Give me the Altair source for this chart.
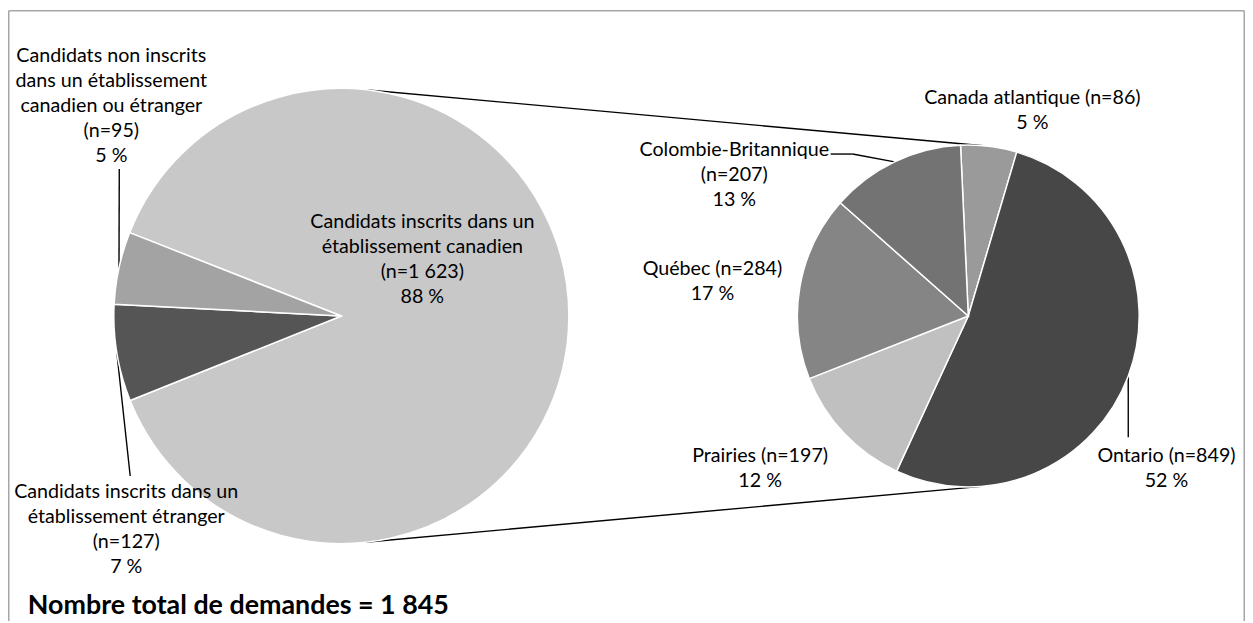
import math
import altair as alt
import pandas as pd

# ---------------- data ----------------
left_cats = ["Candidats inscrits dans un\nétablissement canadien",
             "Candidats inscrits dans un\nétablissement étranger",
             "Candidats non inscrits\ndans un établissement\ncanadien ou étranger"]
left_n = [1623, 127, 95]
left_pct = [88, 7, 5]

right_cats = ["Canada atlantique", "Ontario", "Prairies", "Québec", "Colombie-Britannique"]
right_n = [86, 849, 197, 284, 207]
right_pct = [5, 52, 12, 17, 13]

total_text = "Nombre total de demandes = 1 845"

# ---------------- layout / style ----------------
PAGE = 8                    # page margin
W, H = 1245, 615
L_C, L_R, L_START = (343.5, 316.0), 229, 291.5     # centre (page px), radius, start angle (deg)
R_C, R_R, R_START = (974.5, 316.0), 172, -2.6
left_colors = ["#c8c8c8", "#555555", "#a3a3a3"]
right_colors = ["#9a9a9a", "#474747", "#c0c0c0", "#858585", "#737373"]
FONT = "Lato"
FS = 19.8
LH = 25.3

# label anchors: (centre x, first baseline y) in page px
left_label_pos = [(425, 227), (127, 499), (112, 60)]
right_label_pos = [(1039, 103), (1174, 463), (765, 463), (717, 275), (739, 155)]
right_wrap = ["", "", "", "", "\n"]
# leader-line label ends (page px); None = no leader
left_leader_end = [None, [(131, 477)], [(120, 168)]]
right_leader_end = [None, [(1135.5, 438)], None, None, [(858, 153), (836, 153)]]


def fmt(n):
    return f"{n:,}".replace(",", " ")


def polar(c, r, deg):
    a = math.radians(deg)
    return (c[0] + r * math.sin(a) - PAGE, c[1] - r * math.cos(a) - PAGE)


def mid_angles(values, start):
    tot = sum(values)
    out, acc = [], 0
    for v in values:
        out.append(start + (acc + v / 2) / tot * 360)
        acc += v
    return out


X_SC = alt.Scale(domain=[0, W], range=[0, W], nice=False, zero=False)
Y_SC = alt.Scale(domain=[0, H], range=[0, H], nice=False, zero=False)

# ---------------- frame ----------------
frame_df = pd.DataFrame([
    dict(x=0.75, y=0.75, x2=0.75, y2=H),
    dict(x=0.75, y=0.75, x2=W - 0.75, y2=0.75),
    dict(x=W - 0.75, y=0.75, x2=W - 0.75, y2=H),
])
frame = alt.Chart(frame_df).mark_rule(color="#a6a6a6", strokeWidth=1.5).encode(
    x=alt.X("x:Q", scale=X_SC, axis=None), y=alt.Y("y:Q", scale=Y_SC, axis=None),
    x2="x2:Q", y2="y2:Q")

# ---------------- connector lines ----------------
segs = []
for la, ra in [(6, 5), (174, 175.5)]:
    p1 = polar(L_C, L_R, la)
    p2 = polar(R_C, R_R, ra)
    segs.append(dict(x=p1[0], y=p1[1], x2=p2[0], y2=p2[1]))

# leaders
for mids, c, r, ends in [(mid_angles(left_n, L_START), L_C, L_R, left_leader_end),
                         (mid_angles(right_n, R_START), R_C, R_R, right_leader_end)]:
    for m, e in zip(mids, ends):
        if e is None:
            continue
        pts = [polar(c, r, m)] + [(px - PAGE, py - PAGE) for px, py in e]
        for a, b in zip(pts[:-1], pts[1:]):
            segs.append(dict(x=a[0], y=a[1], x2=b[0], y2=b[1]))

lines_df = pd.DataFrame(segs)
lines = alt.Chart(lines_df).mark_rule(color="black", strokeWidth=1.4).encode(
    x=alt.X("x:Q", scale=X_SC, axis=None), y=alt.Y("y:Q", scale=Y_SC, axis=None),
    x2="x2:Q", y2="y2:Q")

# ---------------- pies ----------------
left_df = pd.DataFrame(dict(cat=left_cats, n=left_n, ord=range(len(left_n))))
right_df = pd.DataFrame(dict(cat=right_cats, n=right_n, ord=range(len(right_n))))


def pie(df, cats, colors, c, r, start):
    a = math.radians(start)
    return alt.Chart(df).mark_arc(radius=r, stroke="white", strokeWidth=1.5).encode(
        theta=alt.Theta("n:Q", stack=True, scale=alt.Scale(range=[a, a + 2 * math.pi])),
        order=alt.Order("ord:Q", sort="ascending"),
        color=alt.Color("cat:N", scale=alt.Scale(domain=cats, range=colors), legend=None),
        x=alt.value(c[0] - PAGE), y=alt.value(c[1] - PAGE),
    )


left_pie = pie(left_df, left_cats, left_colors, L_C, L_R, L_START)
right_pie = pie(right_df, right_cats, right_colors, R_C, R_R, R_START)

# ---------------- labels ----------------
rows = []
for cat, n, p, (px, py) in zip(left_cats, left_n, left_pct, left_label_pos):
    rows.append(dict(x=px - PAGE, y=py - PAGE, t=f"{cat}\n(n={fmt(n)})\n{p} %"))
for cat, n, p, (px, py), wr in zip(right_cats, right_n, right_pct, right_label_pos, right_wrap):
    sep = wr if wr else " "
    rows.append(dict(x=px - PAGE, y=py - PAGE, t=f"{cat}{sep}(n={fmt(n)})\n{p} %"))
lab_df = pd.DataFrame(rows)
labels = alt.Chart(lab_df).mark_text(
    align="center", baseline="alphabetic", lineBreak="\n", lineHeight=LH,
    font=FONT, fontSize=FS, color="black").encode(
    x=alt.X("x:Q", scale=X_SC, axis=None), y=alt.Y("y:Q", scale=Y_SC, axis=None), text="t:N")

title_df = pd.DataFrame([dict(x=28 - PAGE, y=616 - PAGE, t=total_text)])
title = alt.Chart(title_df).mark_text(
    align="left", baseline="alphabetic", font=FONT, fontSize=27, fontWeight="bold",
    color="black").encode(
    x=alt.X("x:Q", scale=X_SC, axis=None), y=alt.Y("y:Q", scale=Y_SC, axis=None), text="t:N")

chart = alt.layer(frame, lines, left_pie, right_pie, labels, title).resolve_scale(
    theta="independent", color="independent"
).properties(
    width=W, height=H, autosize=alt.AutoSizeParams(type="none"), padding=0
).configure_view(stroke=None)

chart.save("out.html", embed_options={"renderer": "svg", "actions": False})
